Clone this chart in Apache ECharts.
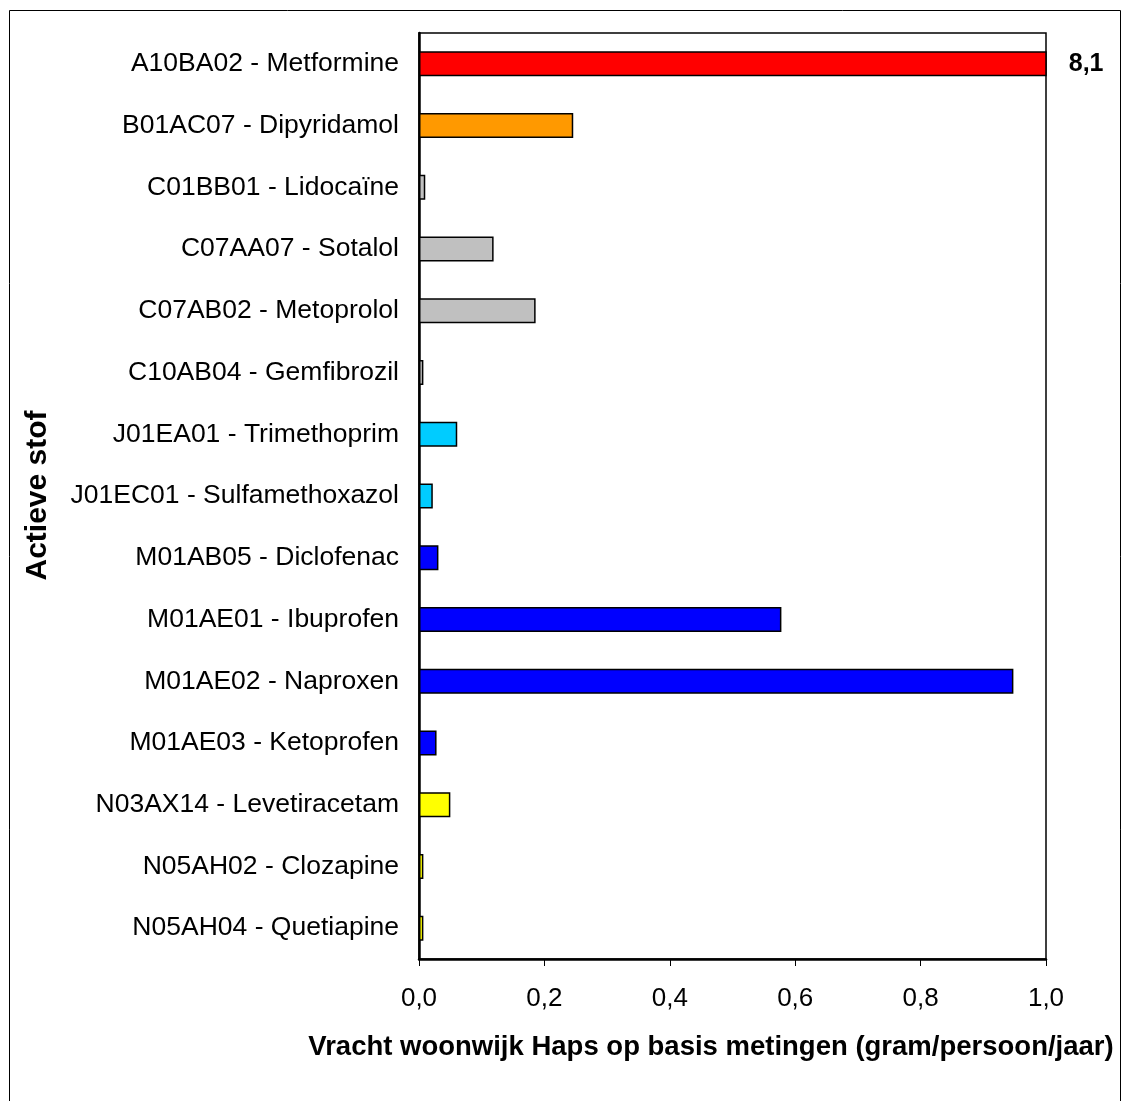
<!DOCTYPE html>
<html>
<head>
<meta charset="utf-8">
<script src="https://cdn.jsdelivr.net/npm/echarts@6/dist/echarts.min.js"></script>
<style>
html,body{margin:0;padding:0;background:#fff;}
#chart{width:1123px;height:1101px;}
</style>
</head>
<body>
<div id="chart"></div>
<script>
// Categories (top to bottom)
var categories = [
  'A10BA02 - Metformine',
  'B01AC07 - Dipyridamol',
  'C01BB01 - Lidocaïne',
  'C07AA07 - Sotalol',
  'C07AB02 - Metoprolol',
  'C10AB04 - Gemfibrozil',
  'J01EA01 - Trimethoprim',
  'J01EC01 - Sulfamethoxazol',
  'M01AB05 - Diclofenac',
  'M01AE01 - Ibuprofen',
  'M01AE02 - Naproxen',
  'M01AE03 - Ketoprofen',
  'N03AX14 - Levetiracetam',
  'N05AH02 - Clozapine',
  'N05AH04 - Quetiapine'
];
// Load (gram/persoon/jaar)
var values = [8.1, 0.246, 0.010, 0.119, 0.186, 0.007, 0.061, 0.022, 0.031, 0.578, 0.948, 0.028, 0.050, 0.007, 0.007];
// Colour group per category
var groups = ['A', 'B', 'C', 'C', 'C', 'C', 'J', 'J', 'M', 'M', 'M', 'M', 'N', 'N', 'N'];
var groupColors = {A: '#FF0000', B: '#FF9900', C: '#C0C0C0', J: '#00CCFF', M: '#0000FF', N: '#FFFF00'};
// x axis
var xMin = 0, xMax = 1.0, xInterval = 0.2;
var xTitle = 'Vracht woonwijk Haps op basis metingen (gram/persoon/jaar)';
var yTitle = 'Actieve stof';
var labelledIndex = 0; // value shown as text (bar is off-scale)

var chart = echarts.init(document.getElementById('chart'), null, {renderer: 'canvas'});
var font = 'Liberation Sans, Arial, sans-serif';

var seriesData = values.map(function (v, i) {
  var item = {value: v, itemStyle: {color: groupColors[groups[i]]}};
  if (i === labelledIndex) {
    item.label = {
      show: true, position: 'right', distance: 22,
      formatter: function (p) { return String(p.value).replace('.', ','); },
      fontFamily: font, fontWeight: 'bold', fontSize: 25, color: '#000'
    };
  }
  return item;
});

var option = {
  backgroundColor: '#fff',
  animation: false,
  grid: {left: 419, right: 77, top: 33, bottom: 142, show: true, borderColor: '#000', borderWidth: 1.5, backgroundColor: 'transparent'},
  xAxis: {
    type: 'value', min: xMin, max: xMax, interval: xInterval,
    axisLine: {show: true, onZero: false, lineStyle: {color: '#000', width: 2.5}},
    axisTick: {show: true, length: 7, lineStyle: {color: '#000', width: 1}},
    splitLine: {show: false},
    axisLabel: {
      margin: 27, fontFamily: font, fontSize: 26, color: '#000',
      formatter: function (v) { return v.toFixed(1).replace('.', ','); }
    }
  },
  yAxis: {
    type: 'category', data: categories, inverse: true,
    axisLine: {show: true, lineStyle: {color: '#000', width: 2.5}},
    axisTick: {show: false},
    axisLabel: {margin: 20, fontFamily: font, fontSize: 26.5, color: '#000'}
  },
  series: [{
    type: 'bar', data: seriesData, barWidth: 25, clip: true,
    itemStyle: {borderColor: '#000', borderWidth: 1.5},
    label: {show: false}
  }],
  graphic: [
    {type: 'rect', shape: {x: 9.5, y: 10.5, width: 1111, height: 1120}, style: {fill: 'none', stroke: '#000', lineWidth: 1}, silent: true, z: -1},
    {type: 'text', x: 38, y: 495.5, rotation: Math.PI / 2,
      style: {text: yTitle, font: 'bold 30px ' + font, fill: '#000', textAlign: 'center', textVerticalAlign: 'middle'}},
    {type: 'text', x: 711, y: 1047,
      style: {text: xTitle, font: 'bold 27.5px ' + font, fill: '#000', textAlign: 'center', textVerticalAlign: 'middle'}}
  ]
};
chart.setOption(option);
</script>
</body>
</html>
